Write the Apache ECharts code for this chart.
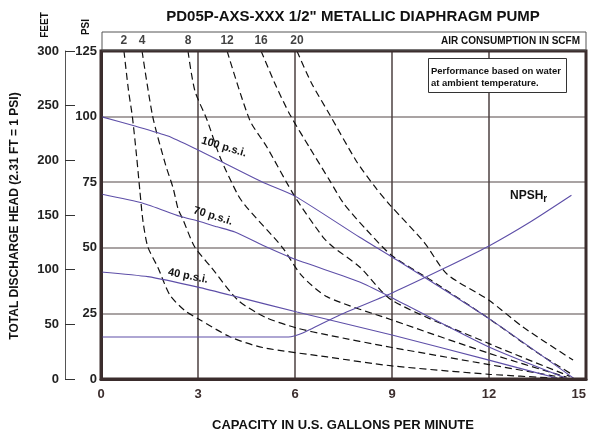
<!DOCTYPE html>
<html><head><meta charset="utf-8">
<script src="https://cdn.jsdelivr.net/npm/echarts@6/dist/echarts.min.js"></script>
<style>html,body{margin:0;padding:0;background:#fff}#c{width:589px;height:435px}</style>
</head><body><div id="c"></div>
<script>
// Tick values
const xTicks = [0, 3, 6, 9, 12, 15];
const psiTicks = [0, 25, 50, 75, 100, 125];
const feetTicks = [0, 50, 100, 150, 200, 250, 300];

// Pressure curves [gpm, psi]
const psi100 = [[0,100],[1.05,96.4],[2.07,92.6],[3,87.3],[3.62,83.5],[5,75],[6,69.7],[8,54],[9,46.5],[12,23],[14.65,0]];
const psi70 = [[0,70.5],[1.3,67],[2.44,62],[3,60.2],[3.59,58],[4.14,56],[5,51],[6.03,45.5],[8,37],[9,31],[12,12.2],[14.45,0]];
const psi40 = [[0,40.8],[1.45,39],[3,35],[4.24,31.2],[6.06,25.5],[9,16.8],[12,7.2],[14.2,0]];
const npshr = [[0,16],[5.8,16],[6.2,17.3],[7.4,24.5],[9,32.8],[10.5,41.5],[12,50.7],[13.3,60],[14.55,70]];

// Air consumption curves (SCFM) [gpm, psi]
const scfmNames = ['2','4','8','12','16','20'];
const scfm2 = [[0.71,125],[0.85,110],[0.97,100],[1.1,85],[1.2,72],[1.3,60],[1.45,50.3],[1.76,42.5],[2.13,32],[2.6,26],[3,23],[4,16],[5,12],[7,8.4],[9,5],[12,1.8],[14.1,0.3]];
const scfm4 = [[1.27,125],[1.6,100],[2.0,81.5],[2.23,72.8],[2.38,65],[2.54,60.6],[2.9,50.3],[3.4,42.7],[4.24,30],[5.07,23.6],[6.06,19.4],[7,16.8],[9,12],[12,5.5],[14.3,0.5]];
const scfm8 = [[2.69,125],[2.9,110],[3.28,98.7],[3.68,84.6],[4.24,70],[4.5,65.5],[5.6,50.3],[6.2,39.5],[7,31.3],[9,22.5],[12,9.8],[14.4,0.7]];
const scfm12 = [[3.9,125],[4.6,98.7],[5.13,88.4],[6.0,69.4],[6.87,54],[7.18,50.3],[8,42.7],[9,30],[12,13.5],[14.5,1]];
const scfm16 = [[4.95,125],[5.4,112],[5.85,100.6],[6.46,88],[7.08,75.5],[7.5,67],[8.2,57],[9,47],[10.2,37.7],[12,23],[13.5,10],[14.6,1.5]];
const scfm20 = [[6.06,125],[6.5,113],[7.08,100.6],[7.9,83],[8.5,72.8],[8.94,66.3],[10,52],[10.7,40],[12,30],[13.05,19.8],[14.6,7.2]];
const scfmCurves = [scfm2, scfm4, scfm8, scfm12, scfm16, scfm20];

const FONT = '"Liberation Sans", Arial, sans-serif';
const PURPLE = '#5e4fa8';
const FRAME = '#3b2d2d';

const chart = echarts.init(document.getElementById('c'), null, {renderer: 'canvas'});

const dashed = scfmCurves.map((d, i) => ({
  type: 'line', data: d, showSymbol: false, symbol: 'none',
  smooth: 0.25, z: 3,
  lineStyle: {color: '#111', width: 1.2, type: [7, 4]}
}));
const purple = [psi100, psi70, psi40, npshr].map(d => ({
  type: 'line', data: d, showSymbol: false, symbol: 'none',
  smooth: 0.2, z: 4,
  lineStyle: {color: PURPLE, width: 1.1}
}));
const topLabels = {
  type: 'scatter', symbolSize: 1, z: 5,
  itemStyle: {color: 'rgba(0,0,0,0)'},
  data: scfmCurves.map((d, i) => ({value: d[0], name: scfmNames[i]})),
  label: {show: true, position: 'top', distance: 4, formatter: '{b}',
    fontFamily: FONT, fontWeight: 'bold', fontSize: 12, color: '#111'},
  silent: true
};

const txt = (x, y, text, size, opts) => Object.assign({
  type: 'text', x, y, z: 10,
  style: Object.assign({text, fill: '#111', font: 'bold ' + size + 'px ' + FONT,
    align: 'center', verticalAlign: 'middle'}, (opts && opts.style) || {})
}, opts ? {rotation: opts.rotation || 0} : {});

chart.setOption({
  animation: false,
  backgroundColor: '#fff',
  grid: {left: 101, right: 3, top: 51, bottom: 56, containLabel: false, outerBoundsMode: 'none',
    show: true, borderColor: FRAME, borderWidth: 3, backgroundColor: 'transparent', z: 6},
  xAxis: {
    type: 'value', min: 0, max: 15, interval: 3,
    axisLine: {show: true, lineStyle: {color: FRAME, width: 3}},
    axisTick: {show: false},
    axisLabel: {fontFamily: FONT, fontWeight: 'bold', fontSize: 13, color: '#3b2d2d', margin: 9,
      alignMaxLabel: 'right',
      formatter: v => xTicks.includes(v) ? String(v) : ''},
    splitLine: {show: true, lineStyle: {color: '#4d4040', width: 1.5}}
  },
  yAxis: [{
    type: 'value', min: 0, max: 125, interval: 25, position: 'left',
    axisLine: {show: true, lineStyle: {color: FRAME, width: 3}},
    axisTick: {show: false},
    axisLabel: {fontFamily: FONT, fontWeight: 'bold', fontSize: 13, color: '#222', margin: 4,
      formatter: v => psiTicks.includes(v) ? String(v) : ''},
    splitLine: {show: true, lineStyle: {color: '#8d8585', width: 1.5}}
  }, {
    type: 'value', min: 0, max: 300, interval: 50, position: 'left', offset: 36,
    axisLine: {show: true, lineStyle: {color: '#555', width: 1}},
    axisTick: {show: true, inside: true, length: 10, lineStyle: {color: '#333', width: 1}},
    axisLabel: {fontFamily: FONT, fontWeight: 'bold', fontSize: 13, color: '#222', margin: 6,
      formatter: v => feetTicks.includes(v) ? String(v) : ''},
    splitLine: {show: false}
  }],
  series: [...dashed, ...purple, topLabels],
  graphic: [
    txt(353, 17, 'PD05P-AXS-XXX 1/2" METALLIC DIAPHRAGM PUMP', 15),
    {type: 'rect', z: 10, shape: {x: 102, y: 32, width: 484, height: 18},
      style: {fill: 'none', stroke: '#555', lineWidth: 1}},
    txt(580, 41, 'AIR CONSUMPTION IN SCFM', 10, {style: {align: 'right'}}),
    {type: 'rect', z: 20, shape: {x: 428.5, y: 58.5, width: 138, height: 34},
      style: {fill: '#fff', stroke: '#333', lineWidth: 1}},
    Object.assign(txt(431, 71, 'Performance based on water', 9.5, {style: {align: 'left'}}), {z: 21}),
    Object.assign(txt(431, 83, 'at ambient temperature.', 9.5, {style: {align: 'left'}}), {z: 21}),
    txt(343, 425, 'CAPACITY IN U.S. GALLONS PER MINUTE', 13),
    txt(15, 216, 'TOTAL DISCHARGE HEAD (2.31 FT = 1 PSI)', 12, {rotation: Math.PI / 2}),
    txt(45, 25, 'FEET', 10, {rotation: Math.PI / 2}),
    txt(86, 27, 'PSI', 10, {rotation: Math.PI / 2}),
    txt(224, 147, '100 p.s.i.', 11, {rotation: -0.29}),
    txt(213, 216, '70 p.s.i.', 11, {rotation: -0.3}),
    txt(188, 276, '40 p.s.i.', 11, {rotation: -0.2}),
    {type: 'text', x: 510, y: 196, z: 10,
      style: {text: 'NPSH{s|r}', fill: '#111', font: 'bold 12px ' + FONT, align: 'left', verticalAlign: 'middle',
        rich: {s: {fontFamily: FONT, fontWeight: 'bold', fontSize: 10, verticalAlign: 'bottom', padding: [6, 0, 0, 0]}}}}
  ]
});
</script>
</body></html>
